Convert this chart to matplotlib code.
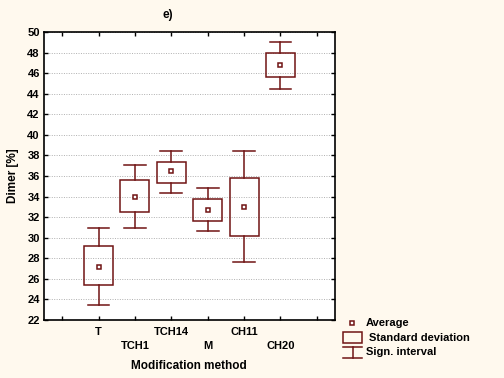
import numpy as np
import matplotlib.pyplot as plt
from matplotlib.patches import Rectangle
from matplotlib.lines import Line2D

# data
methods = ['T', 'TCH1', 'TCH14', 'M', 'CH11', 'CH20']
mean = [27.2, 34.0, 36.45, 32.65, 32.95, 46.75]
sd_low = [25.4, 32.5, 35.3, 31.6, 30.2, 45.6]
sd_high = [29.2, 35.6, 37.4, 33.75, 35.8, 47.95]
ci_low = [23.5, 30.9, 34.3, 30.65, 27.6, 44.5]
ci_high = [30.9, 37.1, 38.4, 34.8, 38.4, 49.0]

col = '#701414'
plt.rcParams['font.family'] = ['Liberation Sans', 'DejaVu Sans']
plt.rcParams['font.weight'] = 'bold'
plt.rcParams['font.size'] = 8

fig = plt.figure(figsize=(5.04, 3.78), dpi=100, facecolor='#fff9ee')
W, H = 504, 378
ax = fig.add_axes([44 / W, 1 - 320 / H, (335 - 44) / W, (320 - 32) / H])
ax.set_facecolor('white')

x = np.arange(1, len(methods) + 1)
bw = 0.8
cw = 0.6
for i in range(len(methods)):
    xi = x[i]
    ax.add_patch(Rectangle((xi - bw / 2, sd_low[i]), bw, sd_high[i] - sd_low[i],
                           fill=False, edgecolor=col, lw=1.1, zorder=3))
    ax.plot([xi, xi], [sd_high[i], ci_high[i]], color=col, lw=1.1, zorder=3)
    ax.plot([xi, xi], [ci_low[i], sd_low[i]], color=col, lw=1.1, zorder=3)
    ax.plot([xi - cw / 2, xi + cw / 2], [ci_high[i]] * 2, color=col, lw=1.1, zorder=3)
    ax.plot([xi - cw / 2, xi + cw / 2], [ci_low[i]] * 2, color=col, lw=1.1, zorder=3)
ax.plot(x, mean, 's', ms=3.5, mfc='white', mec=col, mew=1.1, zorder=4, ls='none')

ax.set_xlim(-0.5, 7.5)
ax.set_ylim(22, 50)
ax.set_yticks(np.arange(22, 51, 2))
ax.set_xticks(np.arange(0, 8))
ax.set_xticklabels([])
ax.tick_params(direction='in', length=3, top=True, right=True, width=1)
ax.tick_params(axis='y', pad=3)
ax.yaxis.grid(True, ls=(0, (1, 1.5)), color='#b0b0b0', lw=0.7)
for s in ax.spines.values():
    s.set_linewidth(1.2)

# staggered category labels
for i, m in enumerate(methods):
    yoff = 332 if i % 2 == 0 else 346
    ax.text(x[i], 1 - (yoff - 32) / 288, m, transform=ax.get_xaxis_transform(),
            ha='center', va='center', fontweight='bold')

fig.text(168 / W, 1 - 15 / H, 'e)', ha='center', va='center', fontsize=8.5, fontweight='bold')
fig.text(13 / W, 1 - 176 / H, 'Dimer [%]', rotation=90, ha='center', va='center', fontsize=8.5, fontweight='bold')
fig.text(189 / W, 1 - 366 / H, 'Modification method', ha='center', va='center', fontsize=8.5, fontweight='bold')

# legend drawn by hand
fig.add_artist(Line2D([352 / W], [1 - 323 / H], marker='s', ms=3.5, mfc='white', mec=col, mew=1.1, ls='none'))
fig.text(366 / W, 1 - 323 / H, 'Average', va='center', fontweight='bold')
fig.add_artist(Rectangle((343 / W, 1 - 343 / H), 19 / W, 11 / H, fill=False, edgecolor=col, lw=1.1,
                         transform=fig.transFigure))
fig.text(369 / W, 1 - 338 / H, 'Standard deviation', va='center', fontweight='bold')
fig.add_artist(Line2D([343 / W, 362 / W], [1 - 347 / H] * 2, color=col, lw=1.1))
fig.add_artist(Line2D([343 / W, 362 / W], [1 - 358 / H] * 2, color=col, lw=1.1))
fig.add_artist(Line2D([352.5 / W] * 2, [1 - 347 / H, 1 - 358 / H], color=col, lw=1.1))
fig.text(366 / W, 1 - 352 / H, 'Sign. interval', va='center', fontweight='bold')

fig.savefig('out.png', dpi=100, facecolor=fig.get_facecolor())
